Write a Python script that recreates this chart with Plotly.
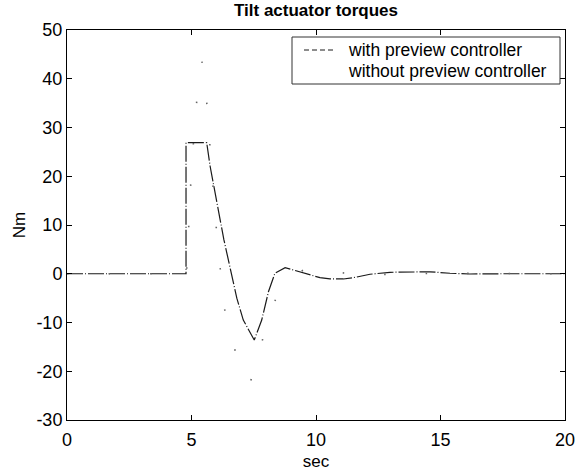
import plotly.graph_objects as go

# Data
t_with = [0, 4.78, 4.78, 5.61, 5.75, 6.1, 6.3, 6.82, 7.08, 7.52, 7.82, 8.09, 8.35, 8.76,
          9.36, 10.16, 10.56, 11.1, 11.57, 12.17, 12.97, 14.58, 15.38, 16.18, 17.5, 20]
y_with = [0, 0, 26.9, 26.9, 22.0, 12.5, 7.0, -5.0, -9.5, -13.6, -9.5, -3.7, 0.1, 1.25,
          0.4, -0.8, -1.05, -1.07, -0.74, -0.1, 0.3, 0.4, 0.1, -0.05, 0, 0]

t_without = [0, 4.8, 5.0, 5.25, 5.42, 5.55, 5.8, 6.05, 6.4, 6.65, 6.9, 7.15, 7.35, 7.7,
             8.05, 8.4, 8.8, 9.5, 10.5, 12, 15, 20]
y_without = [0, 0, 21.8, 38, 43.5, 39.4, 22, 5.9, -10.4, -14.3, -18, -21.8, -22.5, -16,
             -10, -4.9, -1.5, 0.8, 0.4, -0.2, 0.1, 0]

series_names = ["with preview controller", "without preview controller"]
x_ticks = [0, 5, 10, 15, 20]
x_tick_labels = ["0", "5", "10", "15", "20"]
y_ticks = [-30, -20, -10, 0, 10, 20, 30, 40, 50]
y_tick_labels = ["-30", "-20", "-10", "0", "10", "20", "30", "40", "50"]

FONT = "Liberation Sans, Arial, sans-serif"
L, R, T, B = 67, 21, 30, 53
W, H = 586, 473
PW, PH = W - L - R, H - T - B


def px_x(p):
    return (p - L) / PW


def px_y(p):
    return 1 - (p - T) / PH


fig = go.Figure()
fig.add_trace(go.Scatter(
    x=t_with, y=y_with, mode="lines", name=series_names[0], showlegend=False,
    line=dict(color="#1a1a1a", width=1.2, dash="16px,2px,1px,2px"),
))
fig.add_trace(go.Scatter(
    x=t_without, y=y_without, mode="lines", name=series_names[1], showlegend=False,
    line=dict(color="#666666", width=1.6, dash="1.5px,40px"),
))

axis_common = dict(
    showline=True, linecolor="black", linewidth=1, mirror="allticks",
    ticks="inside", ticklen=5, tickcolor="black", tickwidth=1,
    showgrid=False, zeroline=False, automargin=False,
    tickfont=dict(family=FONT, size=18, color="black"),
)

# Legend box drawn as decoration, entries as real text
shapes = [
    dict(type="rect", xref="paper", yref="paper",
         x0=px_x(292), x1=px_x(560), y0=px_y(84), y1=px_y(37),
         line=dict(color="#333333", width=1), fillcolor="white", layer="above"),
    dict(type="line", xref="paper", yref="paper",
         x0=px_x(304), x1=px_x(333), y0=px_y(50), y1=px_y(50),
         line=dict(color="#1a1a1a", width=1, dash="5px,3px"), layer="above"),
]
annotations = [
    dict(text=series_names[0], xref="paper", yref="paper", x=px_x(346), y=px_y(49.5),
         xanchor="left", yanchor="middle", showarrow=False,
         font=dict(family=FONT, size=17.5, color="black")),
    dict(text=series_names[1], xref="paper", yref="paper", x=px_x(346), y=px_y(71.5),
         xanchor="left", yanchor="middle", showarrow=False,
         font=dict(family=FONT, size=17.5, color="black")),
]

fig.update_layout(
    width=W, height=H,
    margin=dict(l=L, r=R, t=T, b=B),
    paper_bgcolor="white", plot_bgcolor="white",
    title=dict(text="<b>Tilt actuator torques</b>", x=(L + W - R) / 2 / W, xanchor="center",
               y=1 - 10 / H, yanchor="middle",
               font=dict(family=FONT, size=17, color="black")),
    xaxis=dict(range=[0, 20], tickvals=x_ticks, ticktext=x_tick_labels, ticklabelstandoff=3,
               title=dict(text="sec", font=dict(family=FONT, size=17, color="black"), standoff=6),
               **axis_common),
    yaxis=dict(range=[-30, 50], tickvals=y_ticks, ticktext=y_tick_labels,
               title=dict(text="Nm", font=dict(family=FONT, size=17, color="black"), standoff=6),
               **axis_common),
    shapes=shapes,
    annotations=annotations,
    showlegend=False,
)

fig.write_html("out.html")
